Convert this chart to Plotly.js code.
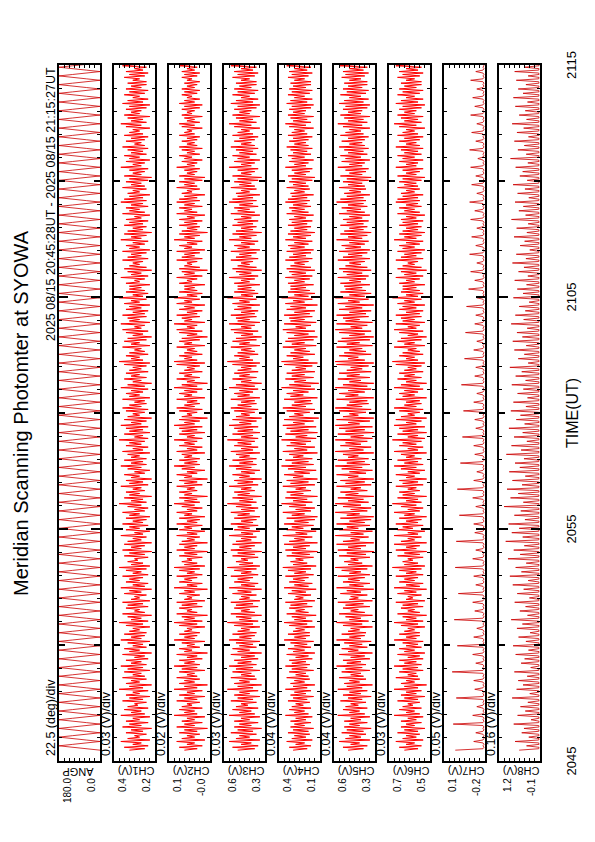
<!DOCTYPE html>
<html><head><meta charset="utf-8">
<script src="https://cdn.plot.ly/plotly-3.0.1.min.js"></script>
<style>
html,body{margin:0;padding:0;background:#fff;overflow:hidden;width:595px;height:842px;}
#wrap{position:absolute;left:0;top:0;width:842px;height:595px;transform-origin:0 0;transform:translate(0px,842px) rotate(-90deg);}
#chart{width:842px;height:595px;}
</style></head><body>
<div id="wrap"><div id="chart"></div></div>
<script>
// ---------------- DATA ----------------
const titleText = 'Meridian Scanning Photomter at SYOWA';
const headerText = '2025 08/15 20:45:28UT - 2025 08/15 21:15:27UT';
const axisTitle = 'TIME(UT)';
const startDate = '2025-08-15';
const startSec = 20*3600 + 45*60 + 28;   // first sample 20:45:28 UT
const stepSec = 3.75;                     // sampling interval
const rangeStart = '2025-08-15 20:45:00';
const rangeEnd = '2025-08-15 21:15:00';

const panelNames = ['ANGP','CH1(V)','CH2(V)','CH3(V)','CH4(V)','CH5(V)','CH6(V)','CH7(V)','CH8(V)'];
const divLabels = ['22.5 (deg)/div','0.03 (V)/div','0.02 (V)/div','0.03 (V)/div','0.04 (V)/div','0.04 (V)/div','0.03 (V)/div','0.05 (V)/div','0.16 (V)/div'];
const divSize = [22.5,0.03,0.02,0.03,0.04,0.04,0.03,0.05,0.16];
const rangeLow = [0,0.18,-0.04,0.32,0.08,0.27,0.48,-0.26,-0.10];
const topTickLabels = ['180.0','0.4','0.1','0.6','0.4','0.6','0.7','0.1','1.2'];
const bottomTickLabels = ['0.0','0.2','-0.0','0.3','0.1','0.3','0.5','-0.2','-0.1'];

const ANGP = [
0,60,120,180,120,60,0,60,120,180,120,60,0,60,120,180,120,60,0,60,120,180,120,60,0,60,120,180,120,60,0,60,120,180,120,60,0,60,120,180,120,60,0,60,120,180,120,60,0,60,120,180,120,60,0,60,120,180,120,60,
0,60,120,180,120,60,0,60,120,180,120,60,0,60,120,180,120,60,0,60,120,180,120,60,0,60,120,180,120,60,0,60,120,180,120,60,0,60,120,180,120,60,0,60,120,180,120,60,0,60,120,180,120,60,0,60,120,180,120,60,
0,60,120,180,120,60,0,60,120,180,120,60,0,60,120,180,120,60,0,60,120,180,120,60,0,60,120,180,120,60,0,60,120,180,120,60,0,60,120,180,120,60,0,60,120,180,120,60,0,60,120,180,120,60,0,60,120,180,120,60,
0,60,120,180,120,60,0,60,120,180,120,60,0,60,120,180,120,60,0,60,120,180,120,60,0,60,120,180,120,60,0,60,120,180,120,60,0,60,120,180,120,60,0,60,120,180,120,60,0,60,120,180,120,60,0,60,120,180,120,60,
0,60,120,180,120,60,0,60,120,180,120,60,0,60,120,180,120,60,0,60,120,180,120,60,0,60,120,180,120,60,0,60,120,180,120,60,0,60,120,180,120,60,0,60,120,180,120,60,0,60,120,180,120,60,0,60,120,180,120,60,
0,60,120,180,120,60,0,60,120,180,120,60,0,60,120,180,120,60,0,60,120,180,120,60,0,60,120,180,120,60,0,60,120,180,120,60,0,60,120,180,120,60,0,60,120,180,120,60,0,60,120,180,120,60,0,60,120,180,120,60,
0,60,120,180,120,60,0,60,120,180,120,60,0,60,120,180,120,60,0,60,120,180,120,60,0,60,120,180,120,60,0,60,120,180,120,60,0,60,120,180,120,60,0,60,120,180,120,60,0,60,120,180,120,60,0,60,120,180,120,60,
0,60,120,180,120,60,0,60,120,180,120,60,0,60,120,180,120,60,0,60,120,180,120,60,0,60,120,180,120,60,0,60,120,180,120,60,0,60,120,180,120,60,0,60,120,180,120,60,0,60,120,180,120,60,0,60,120,180,120,60
];
const CH1 = [
0.33,0.24,0.36,0.22,0.31,0.26,0.38,0.21,0.34,0.27,0.30,0.23,0.35,0.25,0.32,0.20,0.37,0.26,0.33,0.22,
0.35,0.27,0.31,0.21,0.38,0.24,0.32,0.26,0.36,0.22,0.34,0.28,0.30,0.23,0.37,0.25,0.33,0.21,0.35,0.27,
0.31,0.22,0.39,0.25,0.33,0.20,0.35,0.27,0.32,0.23,0.37,0.24,0.31,0.26,0.36,0.21,0.34,0.25,0.38,0.23,
0.32,0.26,0.35,0.22,0.30,0.24,0.37,0.20,0.33,0.27,0.36,0.23,0.31,0.25,0.34,0.21,0.38,0.26,0.32,0.24,
0.36,0.23,0.33,0.27,0.31,0.21,0.35,0.25,0.39,0.22,0.32,0.26,0.34,0.20,0.37,0.24,0.30,0.27,0.35,0.22,
0.34,0.25,0.37,0.21,0.32,0.27,0.30,0.23,0.36,0.26,0.33,0.20,0.38,0.24,0.31,0.22,0.35,0.27,0.33,0.25,
0.37,0.22,0.31,0.26,0.35,0.23,0.39,0.21,0.32,0.25,0.34,0.28,0.30,0.22,0.36,0.24,0.33,0.20,0.37,0.26,
0.32,0.24,0.36,0.20,0.34,0.26,0.31,0.23,0.38,0.25,0.30,0.21,0.35,0.27,0.33,0.22,0.37,0.25,0.31,0.23,
0.35,0.21,0.33,0.27,0.37,0.24,0.30,0.22,0.34,0.26,0.39,0.23,0.32,0.25,0.36,0.20,0.33,0.27,0.35,0.24,
0.31,0.26,0.38,0.22,0.33,0.25,0.35,0.20,0.32,0.27,0.36,0.24,0.30,0.21,0.34,0.26,0.38,0.23,0.32,0.25,
0.36,0.23,0.32,0.27,0.34,0.21,0.37,0.25,0.31,0.22,0.35,0.26,0.33,0.24,0.39,0.22,0.30,0.25,0.36,0.21,
0.33,0.25,0.35,0.22,0.38,0.26,0.32,0.23,0.36,0.20,0.34,0.27,0.31,0.24,0.35,0.22,0.37,0.26,0.33,0.23,
0.30,0.24,0.37,0.21,0.33,0.27,0.35,0.25,0.32,0.22,0.38,0.24,0.34,0.20,0.31,0.26,0.36,0.23,0.32,0.27,
0.35,0.22,0.33,0.26,0.31,0.23,0.36,0.21,0.39,0.25,0.32,0.27,0.35,0.22,0.33,0.24,0.30,0.26,0.37,0.21,
0.32,0.27,0.36,0.23,0.34,0.20,0.31,0.25,0.35,0.22,0.37,0.26,0.30,0.24,0.38,0.21,0.33,0.27,0.34,0.23,
0.37,0.24,0.31,0.22,0.35,0.26,0.33,0.21,0.36,0.27,0.32,0.23,0.39,0.25,0.31,0.22,0.35,0.24,0.33,0.26,
0.33,0.21,0.35,0.27,0.30,0.24,0.38,0.22,0.32,0.26,0.34,0.20,0.36,0.23,0.33,0.27,0.31,0.25,0.37,0.22,
0.34,0.26,0.32,0.23,0.37,0.21,0.33,0.27,0.35,0.24,0.31,0.22,0.38,0.26,0.32,0.23,0.36,0.20,0.34,0.25,
0.31,0.23,0.36,0.25,0.33,0.22,0.35,0.26,0.30,0.21,0.37,0.24,0.33,0.27,0.35,0.22,0.32,0.25,0.38,0.23,
0.36,0.25,0.33,0.21,0.34,0.27,0.31,0.23,0.37,0.24,0.32,0.26,0.35,0.22,0.33,0.20,0.36,0.26,0.31,0.24,
0.33,0.22,0.38,0.26,0.31,0.24,0.35,0.21,0.33,0.27,0.36,0.23,0.32,0.25,0.34,0.22,0.37,0.24,0.30,0.26,
0.35,0.24,0.32,0.22,0.36,0.25,0.33,0.27,0.31,0.21,0.35,0.26,0.38,0.23,0.32,0.25,0.34,0.21,0.36,0.27,
0.32,0.26,0.35,0.23,0.33,0.21,0.37,0.25,0.34,0.22,0.31,0.27,0.36,0.24,0.33,0.22,0.35,0.26,0.32,0.23,
0.34,0.23,0.31,0.27,0.36,0.24,0.33,0.22,0.35,0.25,0.30,0.23,0.37,0.26,0.32,0.21,0.34,0.25,0.33,0.24
];
const CH2 = [
0.06,0.01,0.08,-0.01,0.05,0.02,0.09,-0.02,0.07,0.02,0.05,0.00,0.08,0.01,0.06,-0.03,0.09,0.02,0.06,-0.01,
0.07,0.02,0.05,-0.02,0.10,0.01,0.06,0.02,0.08,-0.01,0.07,0.03,0.05,0.00,0.09,0.01,0.06,-0.02,0.08,0.02,
0.05,-0.01,0.10,0.01,0.06,-0.03,0.08,0.02,0.06,0.00,0.09,0.01,0.05,0.02,0.08,-0.02,0.07,0.01,0.10,0.00,
0.06,0.02,0.08,-0.01,0.05,0.01,0.09,-0.03,0.06,0.03,0.08,0.00,0.05,0.02,0.07,-0.02,0.10,0.02,0.06,0.01,
0.08,0.00,0.06,0.03,0.05,-0.02,0.08,0.01,0.10,-0.01,0.06,0.02,0.07,-0.03,0.09,0.01,0.05,0.03,0.08,-0.01,
0.07,0.01,0.09,-0.02,0.06,0.03,0.05,0.00,0.08,0.02,0.06,-0.03,0.10,0.01,0.05,-0.01,0.08,0.03,0.06,0.01,
0.09,-0.01,0.05,0.02,0.08,0.00,0.10,-0.02,0.06,0.01,0.07,0.03,0.05,-0.01,0.08,0.01,0.06,-0.03,0.09,0.02,
0.06,0.01,0.08,-0.03,0.07,0.02,0.05,0.00,0.09,0.01,0.05,-0.02,0.08,0.03,0.06,-0.01,0.09,0.01,0.05,0.00,
0.08,-0.02,0.06,0.03,0.09,0.01,0.05,-0.01,0.07,0.02,0.10,0.00,0.06,0.01,0.08,-0.03,0.06,0.03,0.08,0.01,
0.05,0.02,0.09,-0.01,0.06,0.01,0.08,-0.03,0.06,0.03,0.09,0.01,0.05,-0.02,0.07,0.02,0.10,0.00,0.06,0.01,
0.08,0.00,0.06,0.03,0.07,-0.02,0.09,0.01,0.05,-0.01,0.08,0.02,0.06,0.01,0.10,-0.01,0.05,0.02,0.08,-0.02,
0.07,0.01,0.08,-0.01,0.10,0.02,0.06,0.00,0.08,-0.03,0.07,0.03,0.05,0.01,0.08,-0.01,0.09,0.02,0.06,0.00,
0.05,0.01,0.09,-0.02,0.06,0.03,0.08,0.01,0.06,-0.01,0.10,0.01,0.07,-0.03,0.05,0.02,0.09,0.00,0.06,0.03,
0.08,-0.01,0.06,0.02,0.05,0.00,0.09,-0.02,0.10,0.01,0.06,0.03,0.08,-0.01,0.06,0.01,0.05,0.02,0.09,-0.02,
0.06,0.03,0.08,0.00,0.07,-0.03,0.05,0.01,0.08,-0.01,0.09,0.02,0.05,0.01,0.10,-0.02,0.06,0.03,0.07,0.00,
0.09,0.01,0.05,-0.01,0.08,0.02,0.06,-0.02,0.09,0.03,0.06,0.00,0.10,0.01,0.05,-0.01,0.08,0.01,0.06,0.02,
0.06,-0.02,0.08,0.03,0.05,0.01,0.09,-0.01,0.06,0.02,0.07,-0.03,0.08,0.00,0.06,0.03,0.05,0.01,0.09,-0.01,
0.07,0.02,0.06,0.00,0.09,-0.02,0.06,0.03,0.08,0.01,0.05,-0.01,0.10,0.02,0.06,0.00,0.08,-0.03,0.07,0.01,
0.05,0.00,0.08,0.01,0.06,-0.01,0.08,0.02,0.05,-0.02,0.09,0.01,0.06,0.03,0.08,-0.01,0.06,0.02,0.09,0.00,
0.08,0.01,0.06,-0.02,0.07,0.03,0.05,0.00,0.09,0.01,0.06,0.02,0.08,-0.01,0.06,-0.02,0.08,0.02,0.05,0.01,
0.06,0.00,0.09,0.02,0.05,0.01,0.07,-0.01,0.06,0.03,0.08,0.00,0.05,0.02,0.07,-0.01,0.08,0.01,0.05,0.02,
0.07,0.01,0.05,0.00,0.08,0.02,0.06,0.03,0.05,-0.01,0.07,0.02,0.08,0.00,0.05,0.02,0.06,-0.01,0.07,0.03,
0.05,0.02,0.07,0.00,0.06,-0.01,0.08,0.02,0.06,0.00,0.05,0.03,0.07,0.01,0.06,0.00,0.07,0.02,0.05,0.01,
0.06,0.00,0.05,0.03,0.07,0.01,0.06,0.00,0.07,0.02,0.05,0.01,0.08,0.02,0.05,0.00,0.06,0.02,0.06,0.01
];
const CH3 = [
0.48,0.38,0.51,0.36,0.46,0.40,0.53,0.35,0.49,0.41,0.47,0.37,0.52,0.39,0.48,0.34,0.50,0.40,0.47,0.36,
0.50,0.41,0.46,0.35,0.53,0.38,0.47,0.40,0.51,0.36,0.49,0.42,0.46,0.37,0.52,0.39,0.48,0.35,0.50,0.41,
0.47,0.36,0.54,0.39,0.48,0.34,0.50,0.41,0.47,0.37,0.52,0.38,0.46,0.40,0.51,0.35,0.49,0.39,0.53,0.37,
0.48,0.40,0.50,0.36,0.46,0.38,0.52,0.34,0.48,0.41,0.51,0.37,0.47,0.39,0.49,0.35,0.53,0.40,0.47,0.38,
0.51,0.37,0.48,0.41,0.46,0.35,0.50,0.39,0.54,0.36,0.47,0.40,0.49,0.34,0.52,0.38,0.46,0.41,0.50,0.36,
0.49,0.39,0.52,0.35,0.47,0.41,0.46,0.37,0.51,0.40,0.48,0.34,0.53,0.38,0.46,0.36,0.50,0.41,0.48,0.39,
0.52,0.36,0.46,0.40,0.50,0.37,0.54,0.35,0.47,0.39,0.49,0.42,0.46,0.36,0.51,0.38,0.48,0.34,0.52,0.40,
0.47,0.38,0.51,0.34,0.49,0.40,0.46,0.37,0.53,0.39,0.46,0.35,0.50,0.41,0.48,0.36,0.52,0.39,0.46,0.37,
0.50,0.35,0.48,0.41,0.52,0.38,0.46,0.36,0.49,0.40,0.54,0.37,0.47,0.39,0.51,0.34,0.48,0.41,0.50,0.38,
0.46,0.40,0.53,0.36,0.48,0.39,0.50,0.34,0.47,0.41,0.51,0.38,0.46,0.35,0.49,0.40,0.53,0.37,0.47,0.39,
0.51,0.37,0.47,0.41,0.49,0.35,0.52,0.39,0.46,0.36,0.50,0.40,0.48,0.38,0.54,0.36,0.46,0.39,0.51,0.35,
0.48,0.39,0.50,0.36,0.53,0.40,0.47,0.37,0.51,0.34,0.49,0.41,0.46,0.38,0.50,0.36,0.52,0.40,0.48,0.37,
0.46,0.38,0.52,0.35,0.48,0.41,0.50,0.39,0.47,0.36,0.53,0.38,0.49,0.34,0.46,0.40,0.51,0.37,0.47,0.41,
0.50,0.36,0.48,0.40,0.46,0.37,0.51,0.35,0.54,0.39,0.47,0.41,0.50,0.36,0.48,0.38,0.46,0.40,0.52,0.35,
0.47,0.41,0.51,0.37,0.49,0.34,0.46,0.39,0.50,0.36,0.52,0.40,0.46,0.38,0.53,0.35,0.48,0.41,0.49,0.37,
0.52,0.38,0.46,0.36,0.50,0.40,0.48,0.35,0.51,0.41,0.47,0.37,0.54,0.39,0.46,0.36,0.50,0.38,0.48,0.40,
0.48,0.35,0.50,0.41,0.46,0.38,0.53,0.36,0.47,0.40,0.49,0.34,0.51,0.37,0.48,0.41,0.46,0.39,0.52,0.36,
0.49,0.40,0.47,0.37,0.52,0.35,0.48,0.41,0.50,0.38,0.46,0.36,0.53,0.40,0.47,0.37,0.51,0.34,0.49,0.39,
0.46,0.37,0.51,0.39,0.48,0.36,0.50,0.40,0.46,0.35,0.52,0.38,0.48,0.41,0.50,0.36,0.47,0.39,0.53,0.37,
0.51,0.39,0.48,0.35,0.49,0.41,0.46,0.37,0.52,0.38,0.47,0.40,0.50,0.36,0.48,0.34,0.51,0.40,0.46,0.38,
0.48,0.36,0.53,0.40,0.46,0.38,0.50,0.35,0.48,0.41,0.51,0.37,0.47,0.39,0.49,0.36,0.52,0.38,0.46,0.40,
0.50,0.38,0.47,0.36,0.51,0.39,0.48,0.41,0.46,0.35,0.50,0.40,0.53,0.37,0.47,0.39,0.49,0.35,0.51,0.41,
0.47,0.40,0.50,0.37,0.48,0.35,0.52,0.39,0.49,0.36,0.46,0.41,0.51,0.38,0.48,0.36,0.50,0.40,0.47,0.37,
0.49,0.37,0.46,0.41,0.51,0.38,0.48,0.36,0.50,0.39,0.46,0.37,0.52,0.40,0.47,0.35,0.49,0.39,0.48,0.38
];
const CH4 = [
0.29,0.18,0.32,0.15,0.27,0.20,0.34,0.14,0.30,0.19,0.28,0.16,0.33,0.17,0.29,0.13,0.31,0.20,0.28,0.15,
0.31,0.19,0.27,0.14,0.35,0.17,0.28,0.20,0.32,0.15,0.30,0.21,0.27,0.16,0.33,0.18,0.29,0.13,0.31,0.19,
0.28,0.15,0.35,0.18,0.29,0.12,0.31,0.20,0.28,0.16,0.34,0.17,0.27,0.19,0.32,0.13,0.30,0.18,0.35,0.16,
0.30,0.19,0.32,0.14,0.27,0.17,0.34,0.12,0.29,0.20,0.33,0.15,0.28,0.18,0.31,0.13,0.36,0.19,0.28,0.16,
0.33,0.16,0.29,0.20,0.27,0.12,0.32,0.18,0.36,0.14,0.28,0.19,0.30,0.11,0.34,0.17,0.27,0.20,0.32,0.14,
0.31,0.18,0.35,0.12,0.28,0.21,0.27,0.15,0.33,0.19,0.30,0.11,0.36,0.17,0.28,0.14,0.32,0.20,0.29,0.17,
0.35,0.13,0.28,0.19,0.33,0.15,0.37,0.11,0.29,0.18,0.31,0.21,0.27,0.13,0.34,0.16,0.30,0.10,0.35,0.19,
0.29,0.16,0.36,0.10,0.32,0.20,0.28,0.14,0.37,0.18,0.27,0.11,0.34,0.21,0.30,0.13,0.36,0.17,0.28,0.12,
0.34,0.10,0.30,0.20,0.37,0.15,0.27,0.12,0.32,0.19,0.38,0.14,0.29,0.18,0.35,0.10,0.31,0.21,0.34,0.15,
0.27,0.19,0.37,0.12,0.31,0.17,0.34,0.10,0.29,0.21,0.36,0.16,0.28,0.11,0.33,0.19,0.38,0.13,0.30,0.17,
0.35,0.14,0.29,0.21,0.32,0.10,0.37,0.18,0.28,0.12,0.34,0.19,0.31,0.15,0.38,0.11,0.27,0.18,0.35,0.10,
0.31,0.17,0.34,0.11,0.37,0.20,0.29,0.13,0.36,0.09,0.32,0.21,0.28,0.16,0.34,0.12,0.37,0.19,0.30,0.14,
0.28,0.15,0.36,0.10,0.31,0.21,0.34,0.17,0.29,0.12,0.38,0.15,0.32,0.09,0.28,0.19,0.35,0.13,0.30,0.20,
0.34,0.12,0.30,0.19,0.27,0.14,0.36,0.10,0.38,0.17,0.29,0.21,0.34,0.12,0.31,0.16,0.28,0.19,0.37,0.11,
0.30,0.20,0.35,0.13,0.33,0.10,0.28,0.17,0.34,0.12,0.37,0.19,0.27,0.15,0.36,0.11,0.31,0.20,0.32,0.14,
0.36,0.16,0.28,0.12,0.34,0.19,0.31,0.10,0.35,0.20,0.29,0.14,0.38,0.17,0.28,0.12,0.33,0.16,0.31,0.19,
0.31,0.13,0.33,0.20,0.28,0.16,0.35,0.14,0.30,0.19,0.32,0.12,0.34,0.15,0.31,0.20,0.28,0.17,0.35,0.14,
0.32,0.19,0.29,0.15,0.34,0.13,0.31,0.20,0.33,0.17,0.28,0.14,0.35,0.19,0.29,0.15,0.33,0.12,0.31,0.18,
0.28,0.15,0.33,0.18,0.30,0.14,0.32,0.19,0.28,0.13,0.34,0.17,0.30,0.20,0.32,0.15,0.29,0.18,0.35,0.16,
0.33,0.18,0.30,0.13,0.31,0.20,0.28,0.16,0.34,0.17,0.29,0.19,0.32,0.14,0.30,0.12,0.33,0.19,0.28,0.16,
0.30,0.14,0.35,0.19,0.28,0.17,0.32,0.13,0.30,0.20,0.33,0.15,0.29,0.18,0.31,0.14,0.34,0.17,0.28,0.19,
0.32,0.17,0.29,0.14,0.33,0.18,0.30,0.20,0.28,0.13,0.32,0.19,0.35,0.15,0.29,0.18,0.31,0.13,0.33,0.20,
0.29,0.19,0.32,0.15,0.30,0.13,0.34,0.18,0.31,0.14,0.28,0.20,0.33,0.16,0.30,0.14,0.32,0.19,0.29,0.15,
0.31,0.15,0.28,0.20,0.33,0.17,0.30,0.14,0.32,0.18,0.28,0.15,0.34,0.19,0.29,0.13,0.31,0.18,0.30,0.16
];
const CH5 = [
0.48,0.36,0.52,0.33,0.46,0.39,0.55,0.31,0.50,0.38,0.47,0.34,0.53,0.36,0.49,0.30,0.51,0.39,0.47,0.33,
0.51,0.38,0.46,0.31,0.56,0.35,0.47,0.39,0.52,0.33,0.50,0.40,0.46,0.34,0.54,0.37,0.48,0.30,0.52,0.38,
0.47,0.33,0.56,0.37,0.49,0.29,0.51,0.39,0.47,0.34,0.55,0.36,0.46,0.38,0.53,0.31,0.50,0.37,0.57,0.34,
0.49,0.38,0.52,0.31,0.46,0.35,0.55,0.29,0.48,0.40,0.53,0.33,0.47,0.37,0.51,0.30,0.57,0.38,0.47,0.35,
0.53,0.34,0.48,0.39,0.46,0.29,0.52,0.37,0.57,0.32,0.47,0.38,0.50,0.29,0.55,0.35,0.46,0.40,0.52,0.31,
0.50,0.36,0.56,0.29,0.47,0.40,0.46,0.33,0.54,0.38,0.49,0.28,0.57,0.36,0.47,0.31,0.52,0.39,0.48,0.35,
0.56,0.31,0.47,0.38,0.53,0.33,0.58,0.29,0.48,0.37,0.51,0.40,0.46,0.31,0.55,0.34,0.49,0.28,0.56,0.38,
0.48,0.34,0.57,0.28,0.52,0.39,0.46,0.32,0.58,0.36,0.46,0.29,0.55,0.40,0.49,0.31,0.57,0.35,0.47,0.30,
0.54,0.28,0.49,0.39,0.58,0.33,0.46,0.30,0.52,0.38,0.58,0.32,0.48,0.36,0.56,0.28,0.50,0.40,0.54,0.33,
0.46,0.38,0.57,0.30,0.50,0.35,0.54,0.28,0.48,0.40,0.57,0.34,0.47,0.29,0.53,0.37,0.58,0.31,0.49,0.35,
0.56,0.32,0.48,0.40,0.52,0.28,0.58,0.36,0.47,0.30,0.54,0.38,0.50,0.33,0.58,0.29,0.46,0.36,0.56,0.28,
0.50,0.35,0.55,0.29,0.58,0.39,0.48,0.31,0.57,0.28,0.52,0.40,0.47,0.34,0.55,0.30,0.58,0.37,0.49,0.32,
0.47,0.33,0.57,0.28,0.50,0.40,0.55,0.35,0.48,0.30,0.58,0.33,0.52,0.28,0.47,0.38,0.56,0.31,0.49,0.39,
0.55,0.30,0.49,0.37,0.46,0.32,0.57,0.28,0.58,0.35,0.48,0.40,0.55,0.30,0.51,0.34,0.47,0.37,0.57,0.29,
0.49,0.39,0.56,0.31,0.53,0.28,0.47,0.35,0.55,0.30,0.58,0.37,0.46,0.33,0.57,0.29,0.50,0.39,0.52,0.32,
0.57,0.34,0.47,0.30,0.55,0.37,0.50,0.28,0.56,0.39,0.48,0.32,0.58,0.35,0.47,0.30,0.54,0.34,0.50,0.37,
0.51,0.31,0.54,0.38,0.47,0.34,0.56,0.32,0.49,0.37,0.52,0.30,0.55,0.33,0.50,0.38,0.47,0.35,0.56,0.31,
0.52,0.37,0.48,0.33,0.55,0.31,0.50,0.38,0.53,0.35,0.47,0.32,0.57,0.37,0.48,0.33,0.54,0.30,0.51,0.36,
0.47,0.33,0.54,0.36,0.49,0.32,0.52,0.37,0.47,0.31,0.55,0.35,0.49,0.38,0.53,0.33,0.48,0.36,0.57,0.34,
0.54,0.36,0.49,0.31,0.51,0.38,0.47,0.34,0.55,0.35,0.48,0.37,0.52,0.32,0.49,0.30,0.54,0.37,0.47,0.34,
0.50,0.32,0.56,0.37,0.47,0.35,0.53,0.31,0.50,0.38,0.54,0.33,0.48,0.36,0.51,0.32,0.55,0.35,0.47,0.37,
0.53,0.35,0.48,0.32,0.54,0.36,0.50,0.38,0.47,0.31,0.52,0.37,0.56,0.33,0.48,0.36,0.51,0.31,0.54,0.38,
0.48,0.37,0.52,0.33,0.50,0.31,0.55,0.36,0.51,0.32,0.47,0.38,0.54,0.34,0.49,0.32,0.52,0.37,0.48,0.33,
0.51,0.33,0.47,0.38,0.53,0.35,0.50,0.32,0.52,0.36,0.47,0.33,0.55,0.37,0.48,0.31,0.51,0.36,0.49,0.34
];
const CH6 = [
0.63,0.55,0.66,0.53,0.62,0.57,0.68,0.52,0.64,0.56,0.62,0.54,0.67,0.55,0.63,0.51,0.65,0.57,0.62,0.53,
0.65,0.56,0.61,0.52,0.69,0.54,0.62,0.57,0.66,0.53,0.64,0.58,0.61,0.54,0.67,0.55,0.63,0.51,0.65,0.56,
0.62,0.53,0.69,0.55,0.63,0.50,0.65,0.57,0.62,0.54,0.68,0.55,0.61,0.56,0.66,0.52,0.64,0.55,0.69,0.53,
0.63,0.56,0.66,0.52,0.61,0.54,0.67,0.51,0.63,0.57,0.66,0.53,0.62,0.55,0.64,0.52,0.69,0.56,0.62,0.54,
0.66,0.54,0.63,0.57,0.61,0.51,0.65,0.55,0.69,0.52,0.62,0.56,0.64,0.50,0.67,0.54,0.61,0.57,0.65,0.52,
0.64,0.55,0.68,0.51,0.62,0.58,0.61,0.53,0.67,0.56,0.63,0.50,0.69,0.54,0.62,0.52,0.66,0.57,0.63,0.55,
0.68,0.52,0.62,0.56,0.66,0.53,0.70,0.51,0.63,0.55,0.64,0.58,0.61,0.52,0.67,0.54,0.63,0.50,0.68,0.56,
0.62,0.54,0.69,0.50,0.65,0.57,0.61,0.53,0.69,0.55,0.61,0.51,0.67,0.58,0.64,0.52,0.68,0.55,0.62,0.53,
0.66,0.50,0.63,0.57,0.69,0.54,0.61,0.52,0.65,0.56,0.70,0.53,0.62,0.55,0.67,0.50,0.64,0.57,0.66,0.54,
0.61,0.56,0.68,0.52,0.64,0.55,0.66,0.50,0.62,0.57,0.68,0.54,0.61,0.51,0.65,0.56,0.69,0.52,0.63,0.55,
0.67,0.53,0.62,0.57,0.65,0.50,0.69,0.55,0.61,0.52,0.66,0.56,0.64,0.53,0.70,0.51,0.61,0.55,0.67,0.50,
0.64,0.55,0.66,0.51,0.69,0.56,0.62,0.53,0.68,0.50,0.65,0.57,0.61,0.54,0.66,0.52,0.69,0.56,0.63,0.53,
0.62,0.54,0.68,0.50,0.64,0.57,0.66,0.55,0.63,0.52,0.69,0.54,0.65,0.50,0.62,0.56,0.67,0.53,0.63,0.57,
0.66,0.52,0.63,0.56,0.61,0.53,0.68,0.51,0.70,0.55,0.62,0.57,0.66,0.52,0.64,0.54,0.61,0.56,0.69,0.51,
0.63,0.57,0.67,0.53,0.65,0.50,0.61,0.55,0.66,0.52,0.69,0.56,0.61,0.54,0.68,0.51,0.64,0.57,0.65,0.53,
0.68,0.54,0.62,0.52,0.66,0.56,0.64,0.51,0.67,0.57,0.63,0.53,0.70,0.55,0.62,0.52,0.65,0.54,0.64,0.56,
0.64,0.51,0.66,0.57,0.62,0.54,0.68,0.52,0.63,0.56,0.65,0.50,0.67,0.53,0.64,0.57,0.61,0.55,0.68,0.52,
0.65,0.56,0.63,0.53,0.67,0.51,0.64,0.57,0.66,0.54,0.62,0.52,0.69,0.56,0.63,0.53,0.66,0.51,0.64,0.55,
0.62,0.53,0.66,0.55,0.64,0.52,0.65,0.56,0.62,0.51,0.67,0.54,0.63,0.57,0.66,0.53,0.62,0.55,0.68,0.54,
0.67,0.55,0.64,0.52,0.65,0.57,0.62,0.54,0.67,0.55,0.63,0.56,0.66,0.53,0.64,0.51,0.67,0.56,0.62,0.54,
0.64,0.52,0.68,0.56,0.62,0.55,0.66,0.52,0.64,0.57,0.67,0.53,0.63,0.55,0.65,0.52,0.68,0.54,0.62,0.56,
0.66,0.54,0.63,0.52,0.67,0.55,0.64,0.57,0.62,0.51,0.66,0.56,0.69,0.53,0.63,0.55,0.65,0.52,0.67,0.57,
0.63,0.56,0.66,0.53,0.64,0.51,0.68,0.55,0.65,0.52,0.62,0.57,0.67,0.54,0.64,0.52,0.66,0.56,0.63,0.53,
0.65,0.53,0.62,0.57,0.67,0.54,0.64,0.52,0.66,0.55,0.62,0.53,0.68,0.56,0.63,0.51,0.65,0.55,0.64,0.54
];
const CH7 = [
0.03,-0.24,-0.25,-0.24,-0.25,-0.24,-0.15,-0.24,-0.25,-0.24,-0.25,-0.24,-0.17,-0.24,-0.25,-0.24,-0.25,-0.24,0.05,-0.24,-0.25,-0.24,-0.25,-0.24,
-0.14,-0.24,-0.25,-0.24,-0.25,-0.24,-0.18,-0.24,-0.25,-0.24,-0.25,-0.24,0.02,-0.24,-0.25,-0.24,-0.25,-0.24,-0.16,-0.24,-0.25,-0.24,-0.25,-0.24,
-0.15,-0.24,-0.25,-0.24,-0.25,-0.24,0.06,-0.24,-0.25,-0.24,-0.25,-0.24,-0.17,-0.24,-0.25,-0.24,-0.25,-0.24,-0.14,-0.24,-0.25,-0.24,-0.25,-0.24,
0.01,-0.24,-0.25,-0.24,-0.25,-0.24,-0.15,-0.24,-0.25,-0.24,-0.25,-0.24,-0.18,-0.24,-0.25,-0.24,-0.25,-0.24,0.04,-0.24,-0.25,-0.24,-0.25,-0.24,
-0.16,-0.24,-0.25,-0.24,-0.25,-0.24,-0.14,-0.24,-0.25,-0.24,-0.25,-0.24,0.00,-0.24,-0.25,-0.24,-0.25,-0.24,-0.17,-0.24,-0.25,-0.24,-0.25,-0.24,
-0.15,-0.24,-0.25,-0.24,-0.25,-0.24,0.03,-0.24,-0.25,-0.24,-0.25,-0.24,-0.14,-0.24,-0.25,-0.24,-0.25,-0.24,-0.17,-0.24,-0.25,-0.24,-0.25,-0.24,
0.02,-0.24,-0.25,-0.24,-0.25,-0.24,-0.16,-0.24,-0.25,-0.24,-0.25,-0.24,-0.15,-0.24,-0.25,-0.24,-0.25,-0.24,-0.01,-0.24,-0.25,-0.24,-0.25,-0.24,
-0.17,-0.24,-0.25,-0.24,-0.25,-0.24,-0.14,-0.24,-0.25,-0.24,-0.25,-0.24,0.01,-0.24,-0.25,-0.24,-0.25,-0.24,-0.15,-0.24,-0.25,-0.24,-0.25,-0.24,
-0.18,-0.24,-0.25,-0.24,-0.25,-0.24,-0.02,-0.24,-0.25,-0.24,-0.25,-0.24,-0.16,-0.24,-0.25,-0.24,-0.25,-0.24,-0.15,-0.24,-0.25,-0.24,-0.25,-0.24,
-0.04,-0.24,-0.25,-0.24,-0.25,-0.24,-0.17,-0.24,-0.25,-0.24,-0.25,-0.24,-0.16,-0.24,-0.25,-0.24,-0.25,-0.24,-0.05,-0.24,-0.25,-0.24,-0.25,-0.24,
-0.15,-0.24,-0.25,-0.24,-0.25,-0.24,-0.18,-0.24,-0.25,-0.24,-0.25,-0.24,-0.03,-0.24,-0.25,-0.24,-0.25,-0.24,-0.16,-0.24,-0.25,-0.24,-0.25,-0.24,
-0.17,-0.24,-0.25,-0.24,-0.25,-0.24,-0.06,-0.24,-0.25,-0.24,-0.25,-0.24,-0.15,-0.24,-0.25,-0.24,-0.25,-0.24,-0.18,-0.24,-0.25,-0.24,-0.25,-0.24,
-0.07,-0.24,-0.25,-0.24,-0.25,-0.24,-0.16,-0.24,-0.25,-0.24,-0.25,-0.24,-0.17,-0.24,-0.25,-0.24,-0.25,-0.24,-0.08,-0.24,-0.25,-0.24,-0.25,-0.24,
-0.18,-0.24,-0.25,-0.24,-0.25,-0.24,-0.10,-0.24,-0.25,-0.24,-0.25,-0.24,-0.16,-0.24,-0.25,-0.24,-0.25,-0.24,-0.12,-0.24,-0.25,-0.24,-0.25,-0.24,
-0.18,-0.24,-0.25,-0.24,-0.25,-0.24,-0.11,-0.24,-0.25,-0.24,-0.25,-0.24,-0.17,-0.24,-0.25,-0.24,-0.25,-0.24,-0.13,-0.24,-0.25,-0.24,-0.25,-0.24,
-0.18,-0.24,-0.25,-0.24,-0.25,-0.24,-0.12,-0.24,-0.25,-0.24,-0.25,-0.24,-0.16,-0.24,-0.25,-0.24,-0.25,-0.24,-0.11,-0.24,-0.25,-0.24,-0.25,-0.24,
-0.18,-0.24,-0.25,-0.24,-0.25,-0.24,-0.13,-0.24,-0.25,-0.24,-0.25,-0.24,-0.17,-0.24,-0.25,-0.24,-0.25,-0.24,-0.12,-0.24,-0.25,-0.24,-0.25,-0.24,
-0.19,-0.24,-0.25,-0.24,-0.25,-0.24,-0.11,-0.24,-0.25,-0.24,-0.25,-0.24,-0.17,-0.24,-0.25,-0.24,-0.25,-0.24,-0.13,-0.24,-0.25,-0.24,-0.25,-0.24,
-0.18,-0.24,-0.25,-0.24,-0.25,-0.24,-0.12,-0.24,-0.25,-0.24,-0.25,-0.24,-0.16,-0.24,-0.25,-0.24,-0.25,-0.24,-0.14,-0.24,-0.25,-0.24,-0.25,-0.24,
-0.18,-0.24,-0.25,-0.24,-0.25,-0.24,-0.12,-0.24,-0.25,-0.24,-0.25,-0.24,-0.17,-0.24,-0.25,-0.24,-0.25,-0.24,-0.13,-0.24,-0.25,-0.24,-0.25,-0.24
];
const CH8 = [
0.55,-0.06,-0.07,0.32,-0.07,-0.06,0.68,-0.06,-0.07,0.25,-0.07,-0.06,0.47,-0.06,-0.07,0.40,-0.07,-0.06,0.72,-0.06,-0.07,0.18,-0.07,-0.06,
0.60,-0.06,-0.07,0.36,-0.07,-0.06,0.51,-0.06,-0.07,0.28,-0.07,-0.06,0.77,-0.06,-0.07,0.22,-0.07,-0.06,0.63,-0.06,-0.07,0.43,-0.07,-0.06,
0.58,-0.06,-0.07,0.30,-0.07,-0.06,0.70,-0.06,-0.07,0.19,-0.07,-0.06,0.49,-0.06,-0.07,0.38,-0.07,-0.06,0.66,-0.06,-0.07,0.26,-0.07,-0.06,
0.74,-0.06,-0.07,0.34,-0.07,-0.06,0.57,-0.06,-0.07,0.21,-0.07,-0.06,0.62,-0.06,-0.07,0.45,-0.07,-0.06,0.80,-0.06,-0.07,0.29,-0.07,-0.06,
0.53,-0.06,-0.07,0.35,-0.07,-0.06,0.69,-0.06,-0.07,0.23,-0.07,-0.06,0.61,-0.06,-0.07,0.41,-0.07,-0.06,0.75,-0.06,-0.07,0.27,-0.07,-0.06,
0.84,-0.06,-0.07,0.48,-0.07,-0.06,0.66,-0.06,-0.07,0.33,-0.07,-0.06,0.90,-0.06,-0.07,0.52,-0.07,-0.06,0.72,-0.06,-0.07,0.39,-0.07,-0.06,
0.97,-0.06,-0.07,0.44,-0.07,-0.06,0.78,-0.06,-0.07,0.55,-0.07,-0.06,0.88,-0.06,-0.07,0.37,-0.07,-0.06,0.70,-0.06,-0.07,0.50,-0.07,-0.06,
1.02,-0.06,-0.07,0.42,-0.07,-0.06,0.82,-0.06,-0.07,0.58,-0.07,-0.06,0.93,-0.06,-0.07,0.46,-0.07,-0.06,0.76,-0.06,-0.07,0.36,-0.07,-0.06,
0.86,-0.06,-0.07,0.53,-0.07,-0.06,0.68,-0.06,-0.07,0.40,-0.07,-0.06,0.95,-0.06,-0.07,0.49,-0.07,-0.06,0.79,-0.06,-0.07,0.31,-0.07,-0.06,
0.71,-0.06,-0.07,0.44,-0.07,-0.06,0.87,-0.06,-0.07,0.38,-0.07,-0.06,0.64,-0.06,-0.07,0.51,-0.07,-0.06,0.81,-0.06,-0.07,0.34,-0.07,-0.06,
0.73,-0.06,-0.07,0.29,-0.07,-0.06,0.60,-0.06,-0.07,0.42,-0.07,-0.06,0.78,-0.06,-0.07,0.35,-0.07,-0.06,0.66,-0.06,-0.07,0.47,-0.07,-0.06,
0.84,-0.06,-0.07,0.27,-0.07,-0.06,0.58,-0.06,-0.07,0.39,-0.07,-0.06,0.70,-0.06,-0.07,0.33,-0.07,-0.06,0.75,-0.06,-0.07,0.45,-0.07,-0.06,
0.62,-0.06,-0.07,0.30,-0.07,-0.06,0.80,-0.06,-0.07,0.41,-0.07,-0.06,0.67,-0.06,-0.07,0.36,-0.07,-0.06,0.55,-0.06,-0.07,0.24,-0.07,-0.06,
0.73,-0.06,-0.07,0.43,-0.07,-0.06,0.61,-0.06,-0.07,0.32,-0.07,-0.06,0.69,-0.06,-0.07,0.28,-0.07,-0.06,0.57,-0.06,-0.07,0.40,-0.07,-0.06,
0.76,-0.06,-0.07,0.34,-0.07,-0.06,0.64,-0.06,-0.07,0.22,-0.07,-0.06,0.52,-0.06,-0.07,0.38,-0.07,-0.06,0.71,-0.06,-0.07,0.31,-0.07,-0.06,
0.63,-0.06,-0.07,0.27,-0.07,-0.06,0.79,-0.06,-0.07,0.35,-0.07,-0.06,0.56,-0.06,-0.07,0.42,-0.07,-0.06,0.68,-0.06,-0.07,0.25,-0.07,-0.06,
0.60,-0.06,-0.07,0.37,-0.07,-0.06,0.74,-0.06,-0.07,0.30,-0.07,-0.06,0.53,-0.06,-0.07,0.44,-0.07,-0.06,0.66,-0.06,-0.07,0.28,-0.07,-0.06,
0.82,-0.06,-0.07,0.33,-0.07,-0.06,0.59,-0.06,-0.07,0.39,-0.07,-0.06,0.70,-0.06,-0.07,0.26,-0.07,-0.06,0.62,-0.06,-0.07,0.41,-0.07,-0.06,
0.77,-0.06,-0.07,0.32,-0.07,-0.06,0.55,-0.06,-0.07,0.36,-0.07,-0.06,0.67,-0.06,-0.07,0.29,-0.07,-0.06,0.73,-0.06,-0.07,0.43,-0.07,-0.06,
0.58,-0.06,-0.07,0.34,-0.07,-0.06,0.64,-0.06,-0.07,0.27,-0.07,-0.06,0.69,-0.06,-0.07,0.38,-0.07,-0.06,0.61,-0.06,-0.07,0.30,-0.07,-0.06
];
const seriesList = [ANGP, CH1, CH2, CH3, CH4, CH5, CH6, CH7, CH8];
const lineColors = ['#cc0000','#ff0000','#ff0000','#ff0000','#ff0000','#ff0000','#ff0000','#cc0000','#cc0000'];

// ---------------- LAYOUT (drawn landscape, rotated into the portrait page) ----------------
const W = 842, H = 595;
const plotLeft = 81, plotRight = 777;
const panelTop0 = 59, panelH = 41, panelStep = 55;
const FONT = 'Liberation Sans, Arial, Helvetica, sans-serif';

function pad2(n){ return (n<10?'0':'')+n; }
function sampleTime(i){
  const s = startSec + i*stepSec;
  const hh = Math.floor(s/3600), mm = Math.floor((s%3600)/60), ss = s%60;
  const whole = Math.floor(ss), ms = Math.round((ss-whole)*1000);
  return startDate+' '+pad2(hh)+':'+pad2(mm)+':'+pad2(whole)+'.'+String(ms).padStart(3,'0');
}
const times = ANGP.map((_,i)=>sampleTime(i));

const xDom = [plotLeft/W, plotRight/W];
const traces = [];
const layout = {
  width: W, height: H,
  margin: {l:0,r:0,t:0,b:0},
  paper_bgcolor: '#fff', plot_bgcolor: '#fff',
  showlegend: false,
  font: {family: FONT, color: '#000', size: 12},
  annotations: []
};
function yPaper(px){ return 1 - px/H; }

for (let k=0; k<9; k++){
  const sfx = k===0 ? '' : String(k+1);
  const xid = 'x'+sfx, yid = 'y'+sfx;
  const top = panelTop0 + k*panelStep, bot = top + panelH;
  const yDom = [yPaper(bot), yPaper(top)];
  const lo = rangeLow[k], hi = lo + 8*divSize[k];
  traces.push({x: times, y: seriesList[k], xaxis: xid, yaxis: yid, type:'scatter', mode:'lines',
    line:{color: lineColors[k], width: (k===0||k>=7) ? 0.8 : 1.0}, hoverinfo:'skip'});
  layout['xaxis'+sfx] = {
    domain: xDom, anchor: yid, type:'date', range:[rangeStart, rangeEnd],
    tick0: rangeStart, dtick: 600000, ticks:'inside', ticklen: 9, tickwidth: 1.5, tickcolor:'#000',
    showline:true, linecolor:'#000', linewidth:2, mirror:'ticks', showgrid:false, zeroline:false,
    showticklabels: k===8, tickformat:'%H%M', tickfont:{size:13, family:FONT},
    ticklabelstandoff: 18,
    minor:{dtick:60000, tick0: rangeStart, ticks:'inside', ticklen:3, tickwidth:1, tickcolor:'#000', showgrid:false}
  };
  layout['yaxis'+sfx] = {
    domain: yDom, anchor: xid, range:[lo, hi], tick0: lo, dtick: divSize[k],
    ticks:'inside', ticklen:3, tickwidth:1, tickcolor:'#000',
    showline:true, linecolor:'#000', linewidth:2, mirror:'ticks',
    showgrid:false, zeroline:false, showticklabels:false
  };
  const oid = String(10+k);
  layout['xaxis'+oid] = {
    overlaying: xid, anchor: yid, type:'date', range:[rangeStart, rangeEnd],
    tick0:'2025-08-15 20:50:00', dtick:600000, ticks:'inside', ticklen:6, tickwidth:1.5, tickcolor:'#000',
    mirror:'ticks', showline:false, showgrid:false, zeroline:false, showticklabels:false
  };
  traces.push({x:[], y:[], xaxis:'x'+oid, yaxis:yid, type:'scatter', mode:'lines', hoverinfo:'skip'});

  layout.annotations.push({text: divLabels[k], xref:'paper', yref:'paper', x: xDom[0], y: yDom[1],
    xanchor:'left', yanchor:'bottom', xshift:3, yshift:-1, showarrow:false, font:{size:12.5, family:FONT}});
  layout.annotations.push({text: panelNames[k], xref:'paper', yref:'paper', x: xDom[0], y: yDom[1],
    xanchor:'right', yanchor:'top', xshift:-2, yshift:-2, textangle:-90, showarrow:false, font:{size:11, family:FONT}});
  layout.annotations.push({text: topTickLabels[k], xref:'paper', yref:'paper', x: xDom[0], y: yDom[1],
    xanchor:'right', yanchor:'top', xshift:-15, yshift:-1, showarrow:false, font:{size:10, family:FONT}});
  layout.annotations.push({text: bottomTickLabels[k], xref:'paper', yref:'paper', x: xDom[0], y: yDom[0],
    xanchor:'right', yanchor:'bottom', xshift:-15, yshift:1, showarrow:false, font:{size:10, family:FONT}});
}
layout.annotations.push({text: headerText, xref:'paper', yref:'paper', x: xDom[1], y: yPaper(panelTop0),
  xanchor:'right', yanchor:'bottom', yshift:-1, showarrow:false, font:{size:12.5, family:FONT}});
layout.annotations.push({text: titleText, xref:'paper', yref:'paper', x: (xDom[0]+xDom[1])/2, y: yPaper(21),
  xanchor:'center', yanchor:'middle', showarrow:false, font:{size:20, family:FONT}});
layout.annotations.push({text: axisTitle, xref:'paper', yref:'paper', x: (xDom[0]+xDom[1])/2, y: yPaper(572),
  xanchor:'center', yanchor:'middle', showarrow:false, font:{size:16, family:FONT}});

Plotly.newPlot('chart', traces, layout, {staticPlot:true, displayModeBar:false});
</script>
</body></html>
